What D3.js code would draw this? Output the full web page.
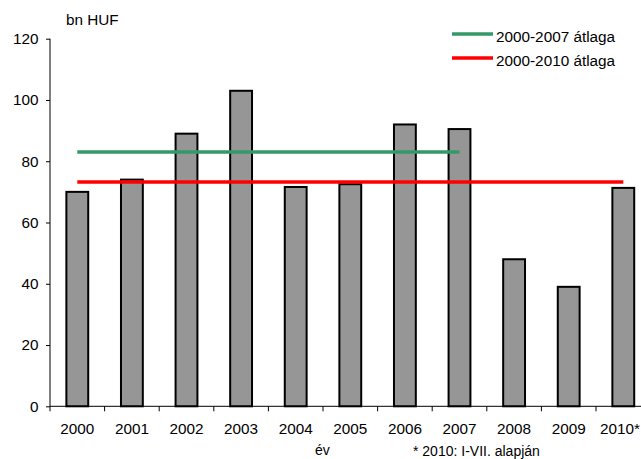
<!DOCTYPE html>
<html>
<head>
<meta charset="utf-8">
<script src="https://cdn.jsdelivr.net/npm/d3@7"></script>
<style>
  html, body { margin: 0; padding: 0; background: #fff; }
  svg { display: block; }
  text { font-family: "Liberation Sans", Arial, sans-serif; fill: #000; }
</style>
</head>
<body>
<script>
// Yearly values, bn HUF (2010 based on January–July)
const years = ["2000", "2001", "2002", "2003", "2004", "2005", "2006", "2007", "2008", "2009", "2010*"];
const values = [70, 74, 89, 103, 71.6, 72.5, 92, 90.5, 48, 39, 71.3];

// Period averages: label, value, first and last year covered, colour
const avgLabels = ["2000-2007 átlaga", "2000-2010 átlaga"];
const avgValues = [83, 73.2];
const avgFrom = ["2000", "2000"];
const avgTo = ["2007", "2010*"];
const avgColors = ["#339966", "#ff0000"];

const yTicks = [0, 20, 40, 60, 80, 100, 120];

const W = 641, H = 459;
const plotLeft = 50, plotRight = 650.6, plotTop = 38.7, plotBottom = 406.3;
const fontSize = "15.3px";

const svg = d3.select("body").append("svg").attr("width", W).attr("height", H);

const x = d3.scaleBand().domain(years).range([plotLeft, plotRight]).paddingInner(0.6).paddingOuter(0.3);
const xCat = d3.scaleBand().domain(years).range([plotLeft, plotRight]).padding(0);
const y = d3.scaleLinear().domain([0, 120]).range([plotBottom, plotTop]);

// Bars
svg.append("g").selectAll("rect").data(values).join("rect")
  .attr("x", (d, i) => x(years[i]))
  .attr("width", x.bandwidth())
  .attr("y", d => y(d))
  .attr("height", d => y(0) - y(d))
  .attr("fill", "#969696")
  .attr("stroke", "#000")
  .attr("stroke-width", 2);

// Average lines
svg.append("g").selectAll("line").data(avgValues).join("line")
  .attr("x1", (d, i) => xCat(avgFrom[i]) + xCat.bandwidth() / 2)
  .attr("x2", (d, i) => xCat(avgTo[i]) + xCat.bandwidth() / 2)
  .attr("y1", d => y(d))
  .attr("y2", d => y(d))
  .attr("stroke", (d, i) => avgColors[i])
  .attr("stroke-width", 3.5);

// Y axis
const yAxis = svg.append("g").attr("transform", `translate(${plotLeft},0)`)
  .call(d3.axisLeft(y).tickValues(yTicks).tickSize(4).tickPadding(7.5).tickFormat(d3.format("d")));
yAxis.select(".domain").attr("stroke", "#000").attr("d", `M0,${plotTop}V${plotBottom}`);
yAxis.selectAll(".tick line").attr("stroke", "#000");
yAxis.selectAll("text").style("font-size", fontSize).style("font-family", "'Liberation Sans', Arial, sans-serif").attr("fill", "#000");

// X axis: ticks on category boundaries
const xAxisG = svg.append("g").attr("transform", `translate(0,${plotBottom})`);
xAxisG.append("line").attr("x1", plotLeft).attr("x2", plotRight).attr("stroke", "#000");
xAxisG.selectAll("line.tk").data(years).join("line").attr("class", "tk")
  .attr("x1", d => xCat(d)).attr("x2", d => xCat(d))
  .attr("y1", 0).attr("y2", 5).attr("stroke", "#000");
xAxisG.selectAll("text").data(years).join("text")
  .attr("x", d => xCat(d) + xCat.bandwidth() / 2)
  .attr("y", 28)
  .attr("text-anchor", "middle")
  .style("font-size", fontSize)
  .text(d => d)
  .each(function () {
    // keep labels inside the drawing width
    const len = this.getComputedTextLength();
    const cx = +this.getAttribute("x");
    if (cx + len / 2 > W - 1) this.setAttribute("x", W - 1 - len / 2);
  });

// Unit and axis titles
svg.append("text").attr("x", 66).attr("y", 25).style("font-size", fontSize).text("bn HUF");
svg.append("text").attr("x", 315).attr("y", 455).style("font-size", "14px").text("év");
svg.append("text").attr("x", 413).attr("y", 456).style("font-size", "14px").text("* 2010: I-VII. alapján");

// Legend
const legend = svg.append("g").selectAll("g").data(avgLabels).join("g")
  .attr("transform", (d, i) => `translate(452,${34 + i * 24})`);
legend.append("line").attr("x1", 0).attr("x2", 41).attr("y1", 0).attr("y2", 0)
  .attr("stroke", (d, i) => avgColors[i]).attr("stroke-width", 3.5);
legend.append("text").attr("x", 44).attr("y", 8).style("font-size", fontSize).text(d => d);
</script>
</body>
</html>
